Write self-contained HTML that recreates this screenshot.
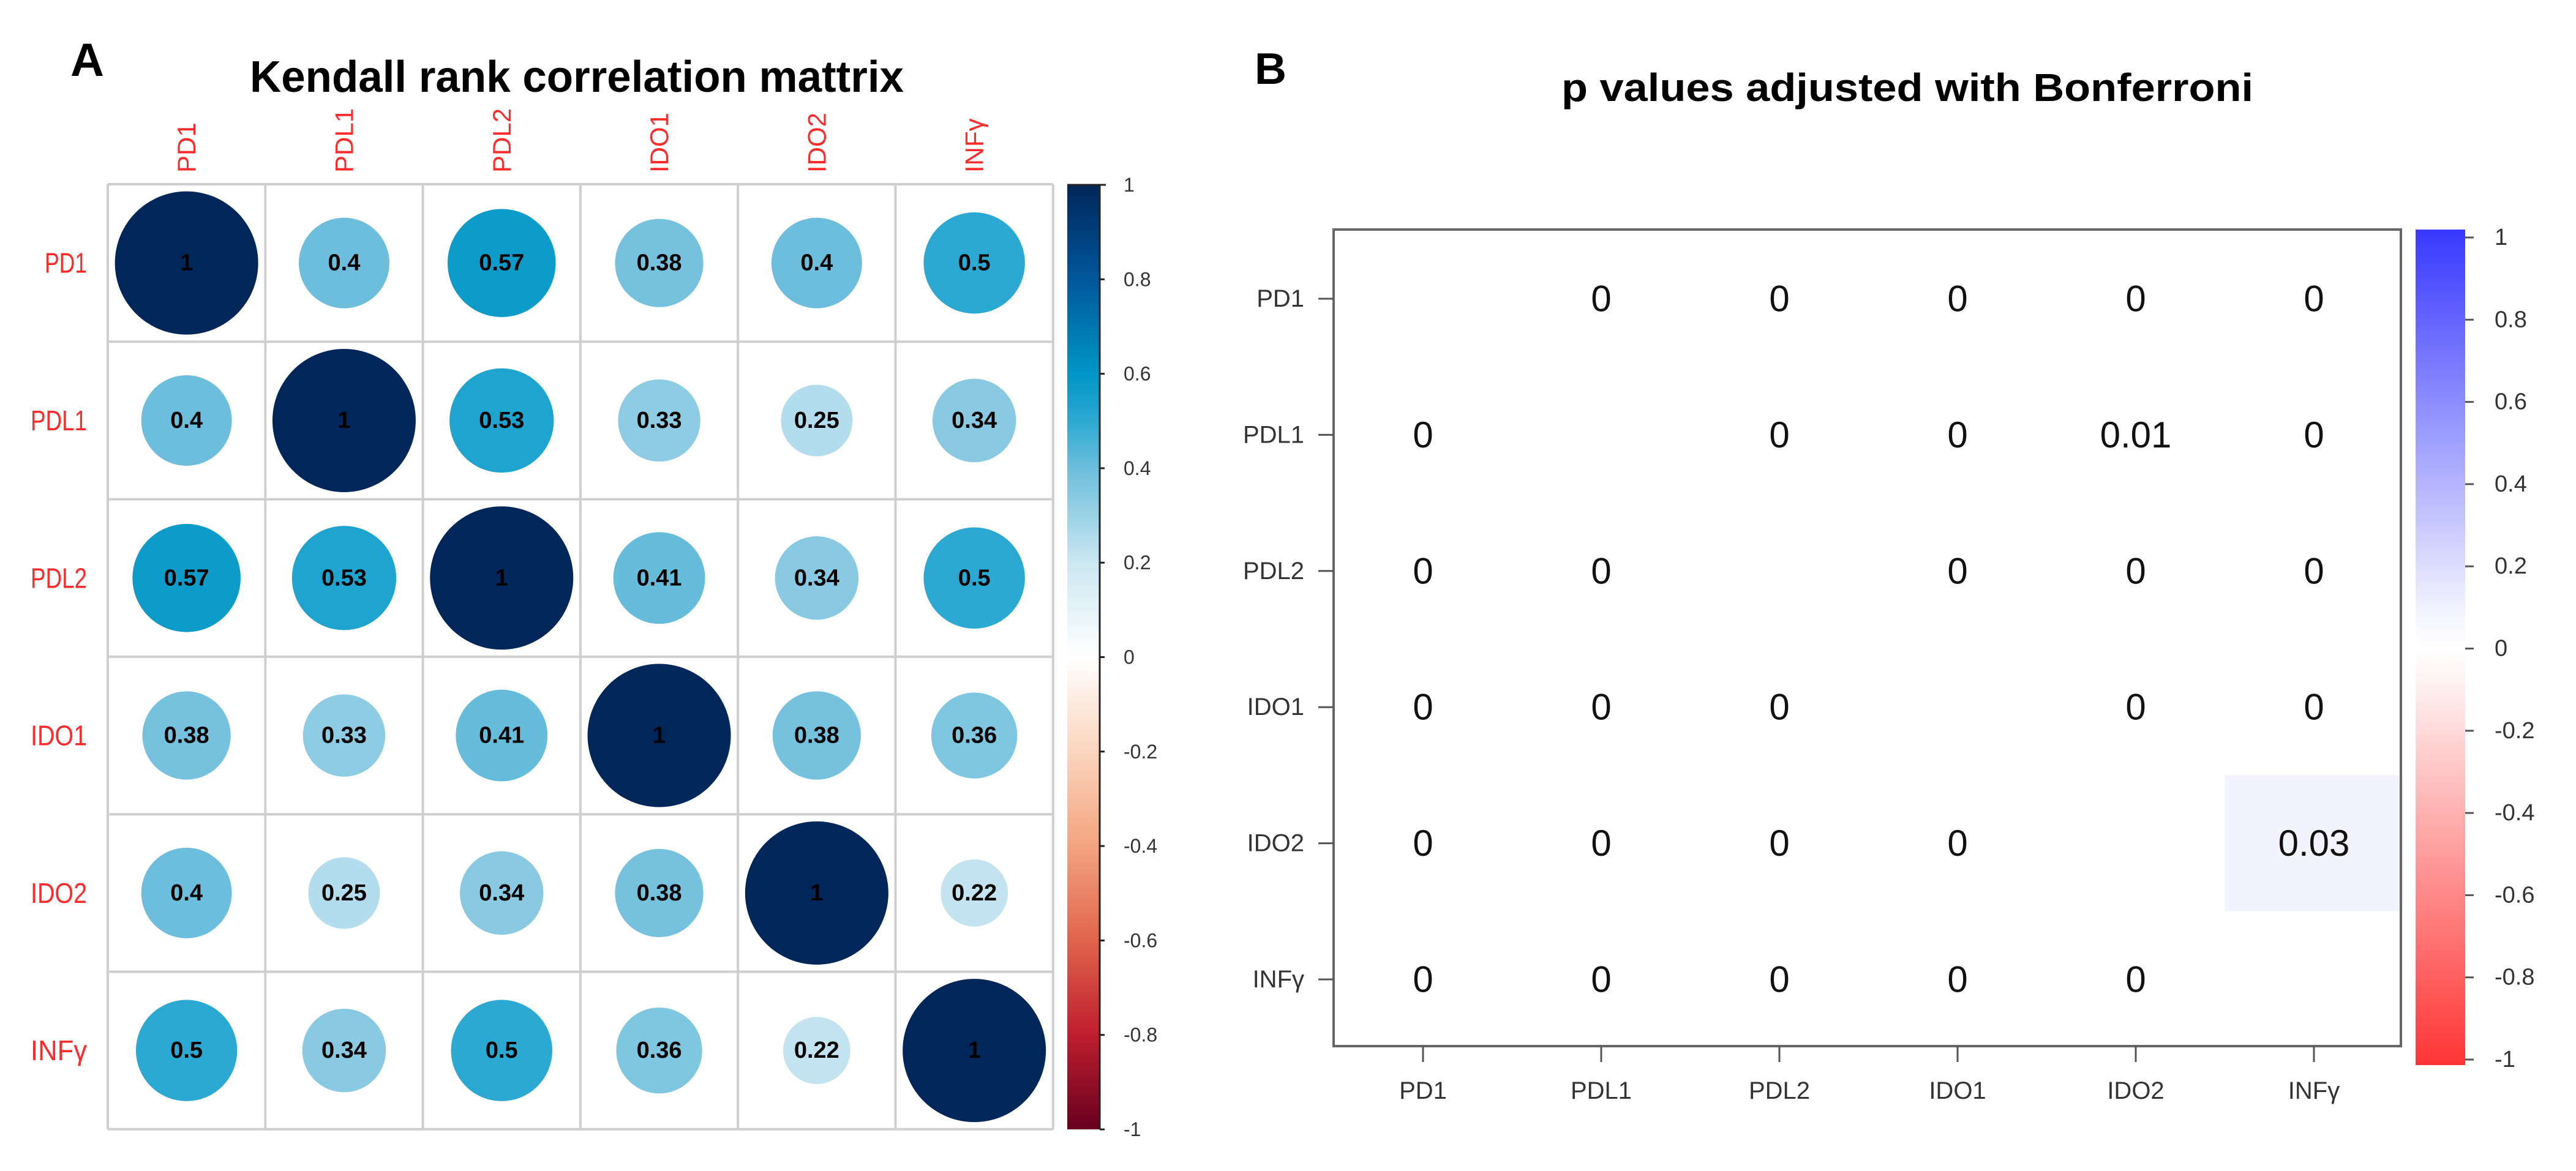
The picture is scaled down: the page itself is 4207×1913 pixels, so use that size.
<!DOCTYPE html>
<html><head><meta charset="utf-8"><style>
html,body{margin:0;padding:0;background:#fff;}
svg{display:block;font-family:"Liberation Sans",sans-serif;}
</style></head><body>
<svg id="fig" width="4207" height="1913" viewBox="0 0 4207 1913" xmlns="http://www.w3.org/2000/svg">
<rect width="4207" height="1913" fill="#fff"/>
<text x="115" y="124" font-size="76" font-weight="bold" fill="#000">A</text>
<text x="942" y="150" font-size="72" font-weight="bold" text-anchor="middle" textLength="1068" lengthAdjust="spacingAndGlyphs" fill="#000">Kendall rank correlation mattrix</text>
<text x="2049" y="137" font-size="72" font-weight="bold" fill="#000">B</text>
<text x="3115" y="165" font-size="64" font-weight="bold" text-anchor="middle" textLength="1130" lengthAdjust="spacingAndGlyphs" fill="#000">p values adjusted with Bonferroni</text>
<defs>
<linearGradient id="gA" x1="0" y1="0" x2="0" y2="1">
<stop offset="0" stop-color="#00265A"/><stop offset="0.1" stop-color="#00579B"/><stop offset="0.2" stop-color="#0096C7"/><stop offset="0.25" stop-color="#2CA9D2"/><stop offset="0.3" stop-color="#6CBEDC"/><stop offset="0.4" stop-color="#CBE7F1"/><stop offset="0.5" stop-color="#FFFFFF"/><stop offset="0.6" stop-color="#FBD5BE"/><stop offset="0.7" stop-color="#F3A47F"/><stop offset="0.8" stop-color="#E0644C"/><stop offset="0.9" stop-color="#BF1E2E"/><stop offset="1" stop-color="#67001F"/>
</linearGradient>
<linearGradient id="gB" x1="0" y1="0" x2="0" y2="1">
<stop offset="0" stop-color="#3838FF"/><stop offset="0.46" stop-color="#F4F4FF"/><stop offset="0.5" stop-color="#FFFFFF"/><stop offset="0.54" stop-color="#FFF2F2"/><stop offset="1" stop-color="#FF3434"/>
</linearGradient>
</defs>
<g id="layer"></g>
</svg>
<script>
const labels = ["PD1","PDL1","PDL2","IDO1","IDO2","INFγ"];
const corrValues = [
 [1,0.4,0.57,0.38,0.4,0.5],
 [0.4,1,0.53,0.33,0.25,0.34],
 [0.57,0.53,1,0.41,0.34,0.5],
 [0.38,0.33,0.41,1,0.38,0.36],
 [0.4,0.25,0.34,0.38,1,0.22],
 [0.5,0.34,0.5,0.36,0.22,1]
];
const pValues = [
 [null,0,0,0,0,0],
 [0,null,0,0,0.01,0],
 [0,0,null,0,0,0],
 [0,0,0,null,0,0],
 [0,0,0,0,null,0.03],
 [0,0,0,0,0,null]
];
const tickValues = [1,0.8,0.6,0.4,0.2,0,-0.2,-0.4,-0.6,-0.8,-1];

const NS="http://www.w3.org/2000/svg";
const layer=document.getElementById('layer');
function mk(tag,attrs,parent){const e=document.createElementNS(NS,tag);for(const k in attrs)e.setAttribute(k,attrs[k]);(parent||layer).appendChild(e);return e;}
function hex(h){return [parseInt(h.slice(1,3),16),parseInt(h.slice(3,5),16),parseInt(h.slice(5,7),16)];}
const stopsA=[[1,"#00265A"],[0.8,"#00579B"],[0.6,"#0096C7"],[0.5,"#2CA9D2"],[0.4,"#6CBEDC"],[0.2,"#CBE7F1"],[0,"#FFFFFF"],[-0.2,"#FBD5BE"],[-0.4,"#F3A47F"],[-0.6,"#E0644C"],[-0.8,"#BF1E2E"],[-1,"#67001F"]];
function colA(v){for(let i=0;i<stopsA.length-1;i++){const [a,ca]=stopsA[i],[b,cb]=stopsA[i+1];if(v<=a&&v>=b){const t=(a-v)/(a-b);const A=hex(ca),B=hex(cb);return 'rgb('+A.map((x,j)=>Math.round(x+(B[j]-x)*t)).join(',')+')';}}return '#fff';}
// binned colour scale (bins of 0.02, like the stepped colour key)
function colB(v){const bin=Math.floor(Math.abs(v)/0.02+1e-9)*0.02;const t=Math.min(1,bin*3);const c=Math.round(255-(255-56)*t);if(v>=0){return 'rgb('+c+','+c+',255)';}return 'rgb(255,'+c+','+c+')';}

// ---------- Panel A ----------
const ax0=176, ay0=301, cw=257.3, ch=257.3, n=labels.length;
const xA=i=>ax0+cw*(i+0.5), yA=i=>ay0+ch*(i+0.5);
const maxR=117;
for(let i=0;i<=n;i++){
  let l=mk('line',{x1:ax0+cw*i,y1:ay0,x2:ax0+cw*i,y2:ay0+ch*n,stroke:'#cfcfcf','stroke-width':4});
  
  
  l=mk('line',{x1:ax0,y1:ay0+ch*i,x2:ax0+cw*n,y2:ay0+ch*i,stroke:'#cfcfcf','stroke-width':4});
  
  
}
labels.forEach((lab,i)=>{
  let t=mk('text',{x:0,y:0,'font-size':42,fill:'#FF2A2A','text-anchor':'start','dominant-baseline':'central',transform:'translate('+xA(i)+',282) rotate(-90)'});
  t.textContent=lab;
  
  
  t=mk('text',{x:142,y:yA(i),'font-size':46,fill:'#FF2A2A','text-anchor':'end','dominant-baseline':'central',textLength:lab.length*23,lengthAdjust:'spacingAndGlyphs'});
  t.textContent=lab;
  
  
});
corrValues.forEach((row,r)=>row.forEach((v,c)=>{
  const circ=mk('circle',{cx:xA(c),cy:yA(r),r:maxR*Math.sqrt(Math.abs(v)),fill:colA(v)});
  
  
  const t=mk('text',{x:xA(c),y:yA(r),'font-size':38,'font-weight':'bold',fill:'#000','text-anchor':'middle','dominant-baseline':'central'});
  t.textContent=String(v);
  
  
}));
// colorbar A
const cbA={x:1743,w:53,top:302,bot:1845};
const cbAy=v=>cbA.top+(1-v)/2*(cbA.bot-cbA.top);
let bar=mk('rect',{x:cbA.x,y:cbA.top,width:cbA.w,height:cbA.bot-cbA.top,fill:'url(#gA)'});


mk('line',{x1:cbA.x+cbA.w,y1:cbA.top,x2:cbA.x+cbA.w,y2:cbA.bot,stroke:'#222','stroke-width':3});
mk('line',{x1:cbA.x,y1:cbA.top,x2:cbA.x+cbA.w+10,y2:cbA.top,stroke:'#222','stroke-width':3});
tickValues.forEach(v=>{
  mk('line',{x1:cbA.x+cbA.w,y1:cbAy(v),x2:cbA.x+cbA.w+8,y2:cbAy(v),stroke:'#222','stroke-width':3});
  const t=mk('text',{x:1835,y:cbAy(v),'font-size':32,fill:'#333','dominant-baseline':'central'});
  t.textContent=String(v);
  
  
});

// ---------- Panel B ----------
const bx0=2178,bx1=3921,by0=375,by1=1709;
const bcx0=2324,bstep=291,bcy0=488,bstepY=222.4;
const xB=i=>bcx0+bstep*i, yB=i=>bcy0+bstepY*i;
pValues.forEach((row,r)=>row.forEach((v,c)=>{
  if(v===null)return;
  if(v>0){
    const cell=mk('rect',{x:xB(c)-bstep/2,y:yB(r)-bstepY/2,width:bstep,height:bstepY,fill:colB(v)});
    
    
  }
  const t=mk('text',{x:xB(c),y:yB(r),'font-size':60,fill:'#111','text-anchor':'middle','dominant-baseline':'central'});
  t.textContent=String(v);
  
  
}));
let box=mk('rect',{x:bx0,y:by0,width:bx1-bx0,height:by1-by0,fill:'none',stroke:'#666','stroke-width':4});


labels.forEach((lab,i)=>{
  mk('line',{x1:xB(i),y1:by1,x2:xB(i),y2:by1+26,stroke:'#555','stroke-width':3});
  let t=mk('text',{x:xB(i),y:1782,'font-size':40,fill:'#333','text-anchor':'middle','dominant-baseline':'central'});
  t.textContent=lab;
  
  
  mk('line',{x1:bx0-25,y1:yB(i),x2:bx0,y2:yB(i),stroke:'#555','stroke-width':3});
  t=mk('text',{x:2130,y:yB(i),'font-size':40,fill:'#333','text-anchor':'end','dominant-baseline':'central'});
  t.textContent=lab;
  
  
});
const cbB={x:3945,w:81,top:375,bot:1740};
const cbBy=v=>388+(1-v)/2*(1731-388);
bar=mk('rect',{x:cbB.x,y:cbB.top,width:cbB.w,height:cbB.bot-cbB.top,fill:'url(#gB)'});


tickValues.forEach(v=>{
  mk('line',{x1:cbB.x+cbB.w,y1:cbBy(v),x2:cbB.x+cbB.w+14,y2:cbBy(v),stroke:'#555','stroke-width':3});
  const t=mk('text',{x:4074,y:cbBy(v),'font-size':38,fill:'#333','dominant-baseline':'central'});
  t.textContent=String(v);
  
  
});
</script>
</body></html>
